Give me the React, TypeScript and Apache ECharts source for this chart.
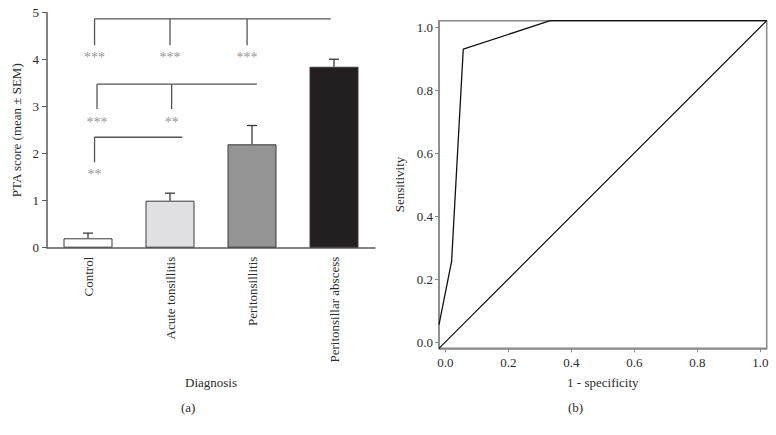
import React, { useEffect, useRef } from "react";
import * as echarts from "echarts";

const categories = ["Control", "Acute tonsillitis", "Peritonsillitis", "Peritonsillar abscess"];
const means = [0.2, 1.0, 2.2, 3.85];
const sem = [0.11, 0.16, 0.4, 0.16];
const barColors = ["#ffffff", "#e1e1e3", "#949494", "#231f20"];

// significance brackets, in (category position, score) units
const bracketSegments: number[][][] = [
  [[0.08, 4.31], [0.08, 4.87], [2.96, 4.87]],
  [[1.0, 4.87], [1.0, 4.31]],
  [[1.94, 4.87], [1.94, 4.31]],
  [[0.11, 2.95], [0.11, 3.48], [2.06, 3.48]],
  [[1.02, 3.48], [1.02, 2.95]],
  [[0.08, 1.82], [0.08, 2.35], [1.15, 2.35]],
];
const starMarks: [number, number, string][] = [
  [0.08, 4.05, "***"],
  [1.0, 4.05, "***"],
  [1.94, 4.05, "***"],
  [0.11, 2.67, "***"],
  [1.02, 2.67, "**"],
  [0.08, 1.55, "**"],
];

const rocCurve = [
  [-0.02, 0.055],
  [0.02, 0.256],
  [0.057, 0.93],
  [0.333, 1.02],
  [1.02, 1.02],
];
const referenceLine = [
  [-0.02, -0.02],
  [1.02, 1.02],
];
const rocTicks = [0, 0.2, 0.4, 0.6, 0.8, 1.0];

const FONT = "Liberation Serif";
const TXT = "#2b2b2b";
const AXIS_A = "#5a5a5a";
const AXIS_B = "#888888";

export default function App() {
  const ref = useRef<HTMLDivElement>(null);
  useEffect(() => {
    if (!ref.current) return;
    const chart = echarts.init(ref.current, undefined, { renderer: "svg" });
    const option: any = {
      animation: false,
      backgroundColor: "#ffffff",
      textStyle: { fontFamily: FONT, color: TXT },
      grid: [
        { left: 47, width: 328, top: 12.7, height: 235 },
        {
          left: 439,
          width: 327.7,
          top: 20.7,
          height: 327.6,
          show: true,
          borderColor: AXIS_B,
          borderWidth: 1.5,
        },
      ],
      xAxis: [
        {
          type: "category",
          gridIndex: 0,
          data: categories,
          boundaryGap: true,
          axisLine: { onZero: false, lineStyle: { color: AXIS_A, width: 1.5 } },
          axisTick: { alignWithLabel: true, length: 4, lineStyle: { color: AXIS_A } },
          axisLabel: {
            rotate: 90,
            fontSize: 13,
            color: TXT,
            fontFamily: FONT,
            margin: 9,
            interval: 0,
          },
          name: "Diagnosis",
          nameLocation: "middle",
          nameGap: 128,
          nameTextStyle: { fontSize: 13, color: TXT, fontFamily: FONT },
        },
        {
          type: "value",
          gridIndex: 0,
          min: -0.5,
          max: 3.5,
          show: false,
        },
        {
          type: "value",
          gridIndex: 1,
          min: -0.02,
          max: 1.02,
          splitLine: { show: false },
          axisLine: { onZero: false, lineStyle: { color: AXIS_B, width: 1.5 } },
          axisTick: { customValues: rocTicks, length: 4, lineStyle: { color: AXIS_B } },
          axisLabel: {
            customValues: rocTicks,
            formatter: (v: number) => v.toFixed(1),
            fontSize: 13,
            color: TXT,
            fontFamily: FONT,
            margin: 8,
          },
          name: "1 - specificity",
          nameLocation: "middle",
          nameGap: 28,
          nameTextStyle: { fontSize: 13, color: TXT, fontFamily: FONT },
        },
      ],
      yAxis: [
        {
          type: "value",
          gridIndex: 0,
          min: 0,
          max: 5,
          interval: 1,
          splitLine: { show: false },
          axisLine: { show: true, onZero: false, lineStyle: { color: AXIS_A, width: 1.5 } },
          axisTick: { show: true, length: 5, lineStyle: { color: AXIS_A } },
          axisLabel: { fontSize: 13, color: TXT, fontFamily: FONT, margin: 8 },
          name: "PTA score (mean ± SEM)",
          nameLocation: "middle",
          nameGap: 24,
          nameTextStyle: { fontSize: 13, color: TXT, fontFamily: FONT },
        },
        {
          type: "value",
          gridIndex: 1,
          min: -0.02,
          max: 1.02,
          splitLine: { show: false },
          axisLine: { show: true, onZero: false, lineStyle: { color: AXIS_B, width: 1.5 } },
          axisTick: { show: true, customValues: rocTicks, length: 4, lineStyle: { color: AXIS_B } },
          axisLabel: {
            customValues: rocTicks,
            formatter: (v: number) => v.toFixed(1),
            fontSize: 13,
            color: TXT,
            fontFamily: FONT,
            margin: 6,
          },
          name: "Sensitivity",
          nameLocation: "middle",
          nameGap: 33,
          nameTextStyle: { fontSize: 13, color: TXT, fontFamily: FONT },
        },
      ],
      series: [
        {
          type: "bar",
          xAxisIndex: 0,
          yAxisIndex: 0,
          barWidth: 49,
          data: means.map((m, i) => ({
            value: m,
            itemStyle: { color: barColors[i], borderColor: "#3a3a3a", borderWidth: 1 },
          })),
        },
        {
          type: "custom",
          xAxisIndex: 0,
          yAxisIndex: 0,
          data: means.map((m, i) => [i, m, m + sem[i]]),
          renderItem: (params: any, api: any) => {
            const base = api.coord([api.value(0), api.value(1)]);
            const top = api.coord([api.value(0), api.value(2)]);
            const st = { stroke: "#3a3a3a", lineWidth: 1.3 };
            return {
              type: "group",
              children: [
                { type: "line", shape: { x1: base[0], y1: base[1], x2: top[0], y2: top[1] }, style: st },
                { type: "line", shape: { x1: top[0] - 5, y1: top[1], x2: top[0] + 5, y2: top[1] }, style: st },
              ],
            };
          },
        },
        ...bracketSegments.map((seg) => ({
          type: "line",
          xAxisIndex: 1,
          yAxisIndex: 0,
          data: seg,
          symbol: "none",
          lineStyle: { color: "#555555", width: 1.3 },
          silent: true,
        })),
        {
          type: "scatter",
          xAxisIndex: 1,
          yAxisIndex: 0,
          symbolSize: 0,
          data: starMarks.map((s) => ({ value: [s[0], s[1]], name: s[2] })),
          label: {
            show: true,
            position: "inside",
            formatter: (p: any) => p.name,
            fontSize: 14,
            color: "#777777",
            fontFamily: FONT,
          },
        },
        {
          type: "line",
          xAxisIndex: 2,
          yAxisIndex: 1,
          data: rocCurve,
          symbol: "none",
          lineStyle: { color: "#111111", width: 1.3 },
        },
        {
          type: "line",
          xAxisIndex: 2,
          yAxisIndex: 1,
          data: referenceLine,
          symbol: "none",
          lineStyle: { color: "#111111", width: 1.2 },
        },
      ],
      graphic: [
        { type: "text", left: 181, top: 401, style: { text: "(a)", font: `13px ${FONT}`, fill: TXT } },
        { type: "text", left: 568, top: 401, style: { text: "(b)", font: `13px ${FONT}`, fill: TXT } },
      ],
    };
    chart.setOption(option);
    return () => chart.dispose();
  }, []);
  return <div ref={ref} style={{ width: 776, height: 435, position: "absolute", left: 0, top: 0 }} />;
}
